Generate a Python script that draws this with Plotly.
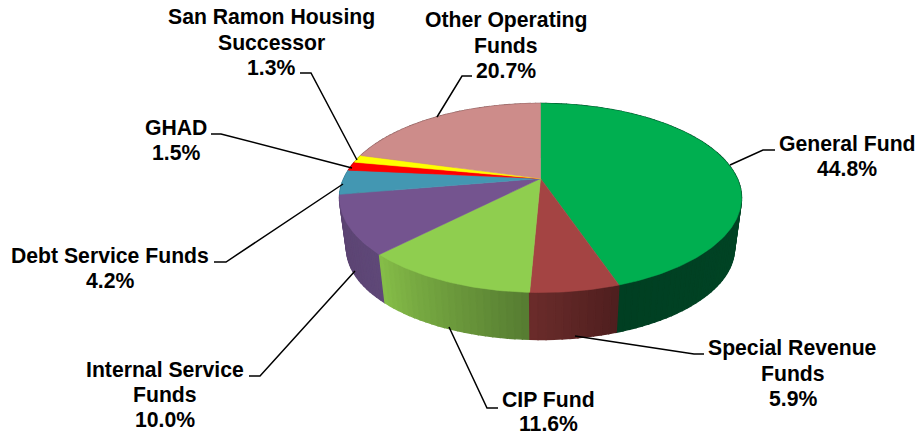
import math
import plotly.graph_objects as go

categories = ["General Fund", "Special Revenue<br>Funds", "CIP Fund", "Internal Service<br>Funds",
              "Debt Service Funds", "GHAD", "San Ramon Housing<br>Successor", "Other Operating<br>Funds"]
values = [44.8, 5.9, 11.6, 10.0, 4.2, 1.5, 1.3, 20.7]
top_colors = ["#00AF50", "#A44443", "#8FCE4F", "#74548F", "#4397B2", "#FF0000", "#FFFF00", "#CD8C8A"]
side_from = ["#004F2B", "#6B2C2B", "#86BE49", "#5F4878", "#35788E", "#A00000", "#A0A000", "#8A5E5D"]
side_to = ["#003F22", "#4E1E1E", "#567C31", "#5A4270", "#35788E", "#A00000", "#A0A000", "#8A5E5D"]

# Perspective projection of the pie disc onto the page (page pixels)
CX, CY, R, A, K = 540.5, 178.5, 196.7, 90.5, 0.206
BOTTOM_SCALE, BOTTOM_DROP = 0.965, 51.0


def rim(pct, bottom=False):
    th = math.radians(pct * 3.6)
    s, c = math.sin(th), math.cos(th)
    w = 1 + K * c
    dx, dy = R * s / w, -A * c / w
    if bottom:
        return CX + dx * BOTTOM_SCALE, CY + BOTTOM_DROP + dy * BOTTOM_SCALE
    return CX + dx, CY + dy


def mix(a, b, t):
    ca = [int(a[i:i + 2], 16) for i in (1, 3, 5)]
    cb = [int(b[i:i + 2], 16) for i in (1, 3, 5)]
    return "#%02x%02x%02x" % tuple(round(p + (q - p) * t) for p, q in zip(ca, cb))


fig = go.Figure()


def poly(xs, ys, color, lw=1.0):
    fig.add_trace(go.Scatter(x=xs, y=ys, mode="lines", fill="toself", fillcolor=color,
                             line=dict(color=color, width=lw), hoverinfo="skip", showlegend=False))


limits = [0.0]
for v in values:
    limits.append(limits[-1] + v)

# Side walls, collected and then painted from the back of the disc to the front
walls = []
for i, v in enumerate(values):
    a0 = limits[i]
    n = max(2, int(v * 2))
    for j in range(n):
        p0 = a0 + v * j / n
        p1 = a0 + v * (j + 1) / n
        pts = [rim(p0 + (p1 - p0) * q / 3) for q in range(4)]
        low = [rim(p1 - (p1 - p0) * q / 3, True) for q in range(4)]
        xs = [p[0] for p in pts + low] + [pts[0][0]]
        ys = [p[1] for p in pts + low] + [pts[0][1]]
        t = (j + 0.5) / n
        t = 1 - t if i in (1, 2) else t
        depth = math.cos(math.radians((p0 + p1) * 1.8))
        walls.append((depth, xs, ys, mix(side_from[i], side_to[i], t)))
for depth, xs, ys, color in sorted(walls, key=lambda w: -w[0]):
    poly(xs, ys, color, 1.4)

# Top faces
for i, v in enumerate(values):
    a0 = limits[i]
    n = max(6, int(v * 4))
    pts = [rim(a0 + v * j / n) for j in range(n + 1)]
    poly([CX] + [p[0] for p in pts] + [CX], [CY] + [p[1] for p in pts] + [CY], top_colors[i], 0.6)

# Leader lines (x pixels, y pixels) per category
leaders = [
    [730, 165, 763, 150, 775, 150],
    [575, 336, 694, 354, 704, 354],
    [449, 327, 487, 408, 498, 408],
    [355, 271, 260, 376, 249, 376],
    [343, 184, 226, 262, 214, 262],
    [352, 168, 221, 134, 211, 134],
    [357, 160, 311, 73, 300, 73],
    [437, 117, 462, 76, 472, 76],
]
for seg in leaders:
    fig.add_trace(go.Scatter(x=seg[0::2], y=seg[1::2], mode="lines",
                             line=dict(color="black", width=1.5), hoverinfo="skip", showlegend=False))

# Label centre x, first-line centre y and line gap
label_pos = [(847, 143.5, 25), (792.5, 348, 25), (548, 399.5, 23.5), (165, 369, 25),
             (110, 255, 25), (175.5, 127, 25), (271, 17, 25), (505.7, 20, 25)]
for name, val, (x, y, gap) in zip(categories, values, label_pos):
    for k, line in enumerate(name.split("<br>") + [f"{val:.1f}%"]):
        fig.add_annotation(x=x, y=y + k * gap, text=f"<b>{line}</b>", showarrow=False,
                           xanchor="center", yanchor="middle", align="center",
                           font=dict(family="Liberation Sans, Arial, sans-serif", size=21.2, color="black"))

fig.update_xaxes(range=[0, 917], visible=False, fixedrange=True)
fig.update_yaxes(range=[435, 0], visible=False, fixedrange=True)
fig.update_layout(width=917, height=435, margin=dict(l=0, r=0, t=0, b=0),
                  paper_bgcolor="white", plot_bgcolor="white", showlegend=False)
fig.write_html("out.html", config={"displayModeBar": False},
               post_script="document.body.style.margin='0';document.body.style.overflow='hidden';")
